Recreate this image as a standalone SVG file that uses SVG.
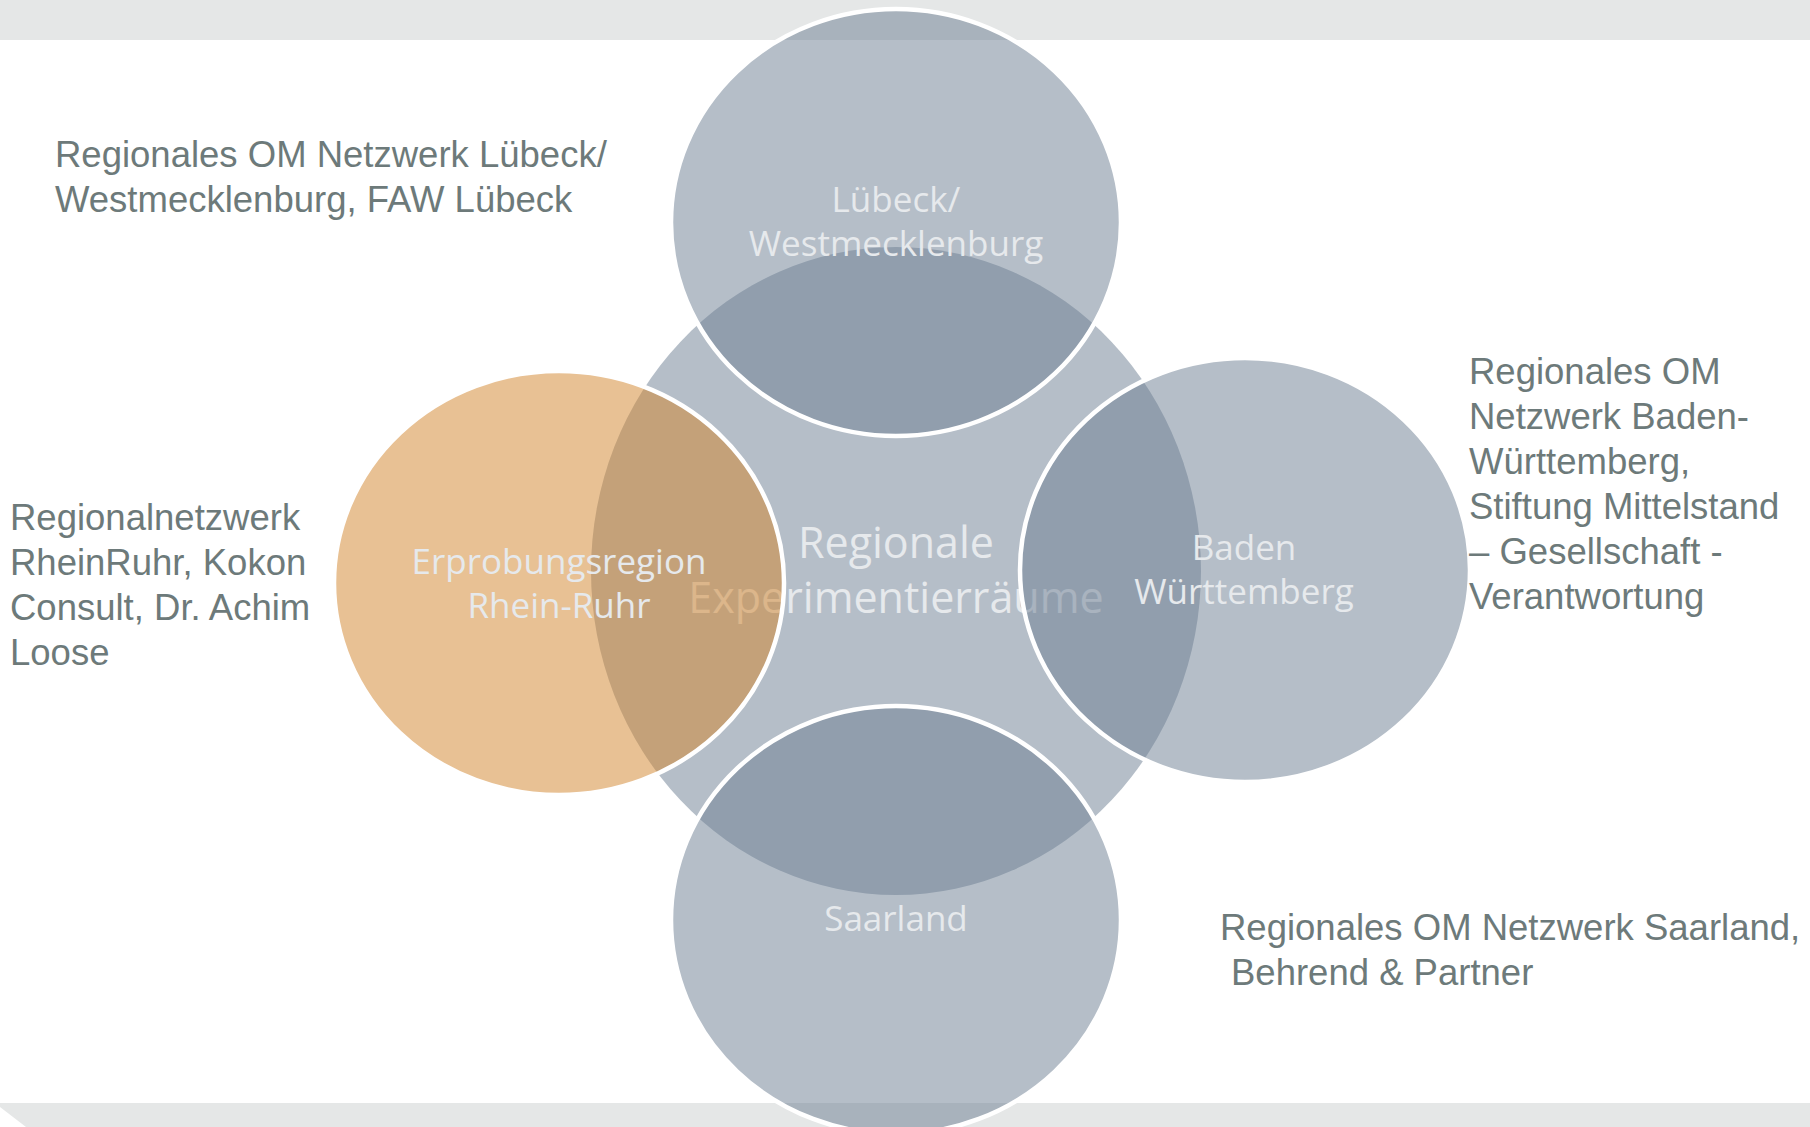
<svg xmlns="http://www.w3.org/2000/svg" width="1810" height="1127" viewBox="0 0 1810 1127">
<style>
.sat{fill:#6f8194;fill-opacity:0.514;stroke:#ffffff;stroke-width:4.5}
.org{fill:#d2862f;fill-opacity:0.514;stroke:#ffffff;stroke-width:4.5}
.in{font-family:"Open Sans","Noto Sans",sans-serif;fill:#e6e9ec;text-anchor:middle}
.out{font-family:"Liberation Sans",Arial,sans-serif;font-size:36.5px;fill:#6d7a7a}
</style>
<rect x="0" y="0" width="1810" height="1127" fill="#ffffff"/>
<rect x="0" y="0" width="1810" height="40" fill="#e5e7e7"/>
<polygon points="0,1103 1810,1103 1810,1127 26,1127 0,1107" fill="#e5e7e7"/>
<g id="center">
<ellipse cx="896" cy="571" rx="305" ry="324" fill="#b5bec8"/>
<text class="in" font-size="43" x="896" y="558">Regionale</text>
<text class="in" font-size="43" x="896" y="613">Experimentierräume</text>
</g>
<g id="node-luebeck">
<ellipse class="sat" cx="896" cy="222.5" rx="225" ry="213.5"/>
<text class="in" font-size="35" x="896" y="212">Lübeck/</text>
<text class="in" font-size="35" x="896" y="256">Westmecklenburg</text>
</g>
<g id="node-rheinruhr">
<ellipse class="org" cx="559" cy="583" rx="225" ry="212"/>
<text class="in" font-size="35" x="559" y="574">Erprobungsregion</text>
<text class="in" font-size="35" x="559" y="618">Rhein-Ruhr</text>
</g>
<g id="node-bw">
<ellipse class="sat" cx="1245" cy="570" rx="225" ry="212"/>
<text class="in" font-size="35" x="1244" y="560">Baden</text>
<text class="in" font-size="35" x="1244" y="604">Württemberg</text>
</g>
<g id="node-saarland">
<ellipse class="sat" cx="896" cy="920" rx="225" ry="214"/>
<text class="in" font-size="35" x="896" y="931">Saarland</text>
</g>
<g id="label-luebeck">
<text class="out" x="55" y="167">Regionales OM Netzwerk Lübeck/</text>
<text class="out" x="55" y="212">Westmecklenburg, FAW Lübeck</text>
</g>
<g id="label-rheinruhr">
<text class="out" x="10" y="530">Regionalnetzwerk</text>
<text class="out" x="10" y="575">RheinRuhr, Kokon</text>
<text class="out" x="10" y="620">Consult, Dr. Achim</text>
<text class="out" x="10" y="665">Loose</text>
</g>
<g id="label-bw">
<text class="out" x="1469" y="384">Regionales OM</text>
<text class="out" x="1469" y="429">Netzwerk Baden-</text>
<text class="out" x="1469" y="474">Württemberg,</text>
<text class="out" x="1469" y="519">Stiftung Mittelstand</text>
<text class="out" x="1469" y="564">– Gesellschaft -</text>
<text class="out" x="1469" y="609">Verantwortung</text>
</g>
<g id="label-saarland">
<text class="out" x="1220" y="940">Regionales OM Netzwerk Saarland,</text>
<text class="out" x="1231" y="985">Behrend &amp; Partner</text>
</g>
<g id="connectors"/>
</svg>
